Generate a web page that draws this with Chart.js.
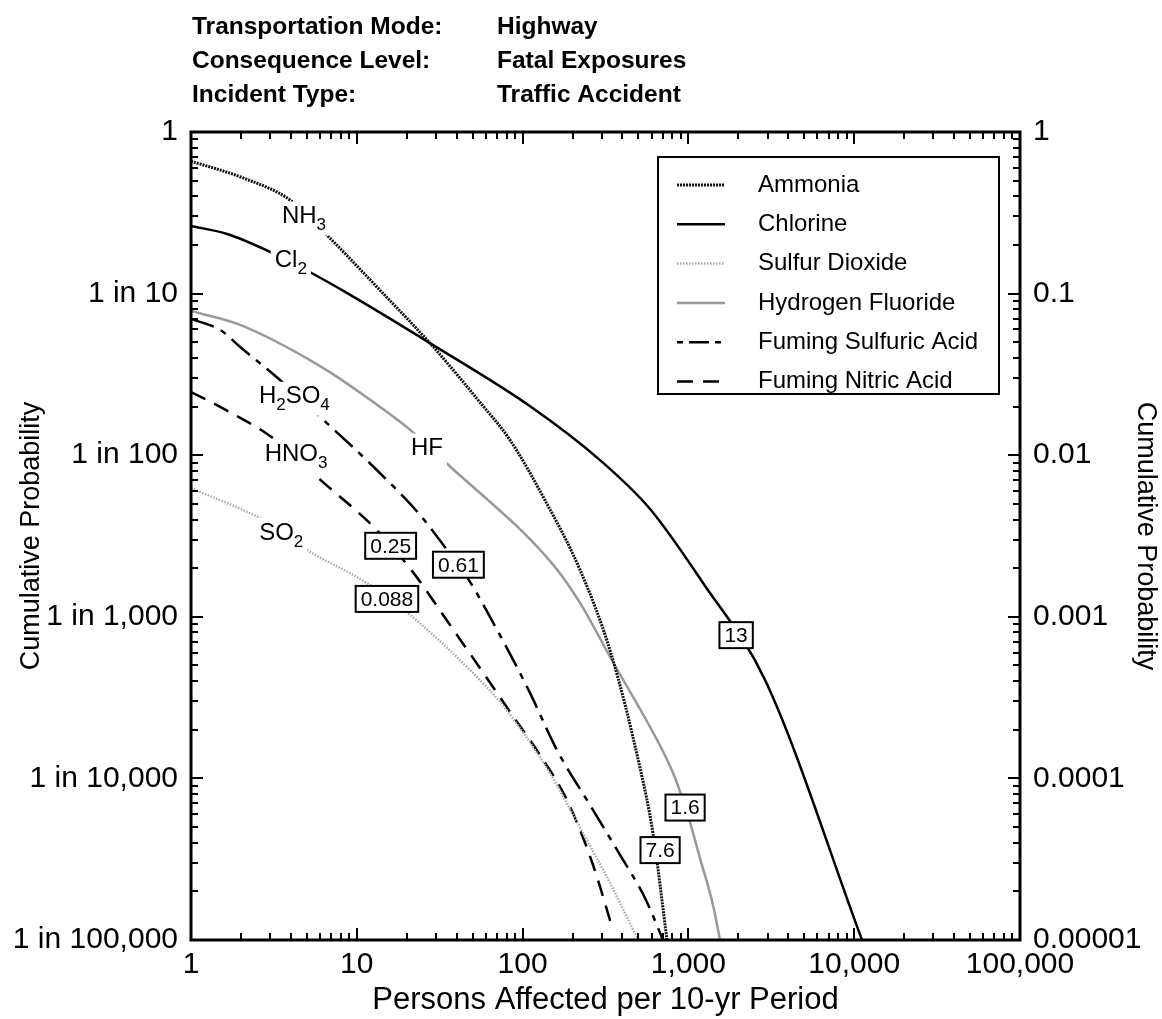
<!DOCTYPE html>
<html>
<head>
<meta charset="utf-8">
<script src="https://cdn.jsdelivr.net/npm/chart.js@4"></script>
<style>
  body { margin: 0; background: #fff; }
  canvas { display: block; }
</style>
</head>
<body>
<canvas id="fnChart" width="1162" height="1019"></canvas>
<script>
const xTicks = [1, 10, 100, 1000, 10000, 100000];
const xTickLabels = ["1", "10", "100", "1,000", "10,000", "100,000"];
const yTicks = [1e-5, 1e-4, 1e-3, 1e-2, 1e-1, 1];
const yLeftLabels = ["1 in 100,000", "1 in 10,000", "1 in 1,000", "1 in 100", "1 in 10", "1"];
const yRightLabels = ["0.00001", "0.0001", "0.001", "0.01", "0.1", "1"];

const headerKeys = ["Transportation Mode:", "Consequence Level:", "Incident Type:"];
const headerValues = ["Highway", "Fatal Exposures", "Traffic Accident"];

// persons affected (x) vs cumulative probability (y)
const ammoniaX = [1, 2.06, 3.95, 6.6, 13.8, 28.8, 55, 84, 136, 222, 340, 510, 611, 743];
const ammoniaY = [0.66, 0.52, 0.38, 0.23, 0.105, 0.047, 0.0214, 0.0124, 0.0053, 0.00195, 0.0006, 0.000117, 0.000046, 0.00001];
const chlorineX = [1, 1.65, 3.12, 5.2, 8.7, 27.6, 111, 293, 587, 1225, 2900, 11150];
const chlorineY = [0.262, 0.234, 0.178, 0.136, 0.101, 0.0494, 0.0201, 0.00933, 0.00465, 0.00162, 0.000406, 0.00001];
const so2X = [1, 2.72, 5.0, 11.5, 20.9, 50.2, 73, 103, 146, 231, 337, 497];
const so2Y = [0.00626, 0.00397, 0.00259, 0.00162, 0.00103, 0.000449, 0.000297, 0.000186, 0.000108, 0.000046, 0.0000225, 0.00001];
const hfX = [1, 1.98, 6.25, 13.8, 21.8, 33.1, 150, 222, 337, 647, 808, 995, 1175, 1407, 1552];
const hfY = [0.078, 0.064, 0.0347, 0.0199, 0.0139, 0.00934, 0.00215, 0.00122, 0.000564, 0.000173, 0.000108, 0.000059, 0.000032, 0.0000165, 0.00001];
const h2so4X = [1, 1.5, 1.98, 3.44, 5.84, 13.2, 24.1, 35, 46.2, 73, 111, 161, 255, 387, 547, 703];
const h2so4Y = [0.0697, 0.0596, 0.0467, 0.0292, 0.01774, 0.0081, 0.00426, 0.00259, 0.00176, 0.00077, 0.000337, 0.00015, 0.0000684, 0.0000336, 0.0000182, 0.00001];
const hno3X = [1, 1.5, 3.12, 6.25, 13.2, 21.8, 36.5, 55.3, 84, 127, 185, 266, 351];
const hno3Y = [0.0246, 0.0199, 0.01276, 0.00682, 0.00344, 0.00189, 0.000889, 0.000482, 0.000258, 0.00014, 0.0000735, 0.0000291, 0.0000115];

const seriesNames = ["Ammonia", "Chlorine", "Sulfur Dioxide", "Hydrogen Fluoride", "Fuming Sulfuric Acid", "Fuming Nitric Acid"];

// curve labels: [text parts, x, y]; parts marked true are subscripts
const formulaLabels = [
  [[["NH", false], ["3", true]], 4.8, 0.30],
  [[["Cl", false], ["2", true]], 4.0, 0.16],
  [[["H", false], ["2", true], ["SO", false], ["4", true]], 4.2, 0.023],
  [[["HNO", false], ["3", true]], 4.3, 0.0101],
  [[["HF", false]], 26.5, 0.011],
  [[["SO", false], ["2", true]], 3.5, 0.0033]
];
const boxLabels = [
  ["0.25", 16, 0.00275],
  ["0.61", 41, 0.0021],
  ["0.088", 15.2, 0.00129],
  ["13", 1940, 0.00077],
  ["1.6", 955, 0.000066],
  ["7.6", 675, 0.000036]
];

const FONT = "'Liberation Sans', Arial, sans-serif";

function pts(xs, ys) {
  return xs.map((x, i) => ({ x: x, y: ys[i] }));
}

const styles = [
  { borderColor: "#111", borderWidth: 3, borderDash: [2, 1] },
  { borderColor: "#000", borderWidth: 2.5, borderDash: [] },
  { borderColor: "#aaa", borderWidth: 2.5, borderDash: [1.5, 1.5] },
  { borderColor: "#999", borderWidth: 2.5, borderDash: [] },
  { borderColor: "#000", borderWidth: 2.5, borderDash: [24, 8, 6, 8] },
  { borderColor: "#000", borderWidth: 2.5, borderDash: [16, 10] }
];
const legendDash = [[2, 1], [], [1.5, 1.5], [], [6, 6, 20, 6, 6, 6], [16, 10]];

const seriesData = [
  pts(ammoniaX, ammoniaY), pts(chlorineX, chlorineY), pts(so2X, so2Y),
  pts(hfX, hfY), pts(h2so4X, h2so4Y), pts(hno3X, hno3Y)
];

const datasets = seriesData.map((d, i) => Object.assign({
  label: seriesNames[i],
  data: d,
  pointRadius: 0,
  fill: false,
  cubicInterpolationMode: "monotone"
}, styles[i]));

function drawFormula(ctx, parts, cx, cy) {
  const big = "24px " + FONT, small = "17px " + FONT;
  let w = 0;
  parts.forEach(p => { ctx.font = p[1] ? small : big; w += ctx.measureText(p[0]).width; });
  ctx.fillStyle = "#fff";
  ctx.fillRect(cx - w / 2 - 4, cy - 15, w + 8, 34);
  ctx.fillStyle = "#000";
  ctx.textBaseline = "middle";
  ctx.textAlign = "left";
  let x = cx - w / 2;
  parts.forEach(p => {
    ctx.font = p[1] ? small : big;
    ctx.fillText(p[0], x, p[1] ? cy + 9 : cy);
    x += ctx.measureText(p[0]).width;
  });
}

function drawBox(ctx, text, cx, cy) {
  ctx.font = "21px " + FONT;
  const w = ctx.measureText(text).width + 10;
  const h = 26;
  ctx.fillStyle = "#fff";
  ctx.fillRect(cx - w / 2, cy - h / 2, w, h);
  ctx.lineWidth = 2;
  ctx.strokeStyle = "#000";
  ctx.setLineDash([]);
  ctx.strokeRect(cx - w / 2, cy - h / 2, w, h);
  ctx.fillStyle = "#000";
  ctx.textAlign = "center";
  ctx.textBaseline = "middle";
  ctx.fillText(text, cx, cy + 1);
}

const decorPlugin = {
  id: "decor",
  afterDatasetsDraw(chart) {
    const ctx = chart.ctx;
    const a = chart.chartArea;
    const xs = chart.scales.x, ys = chart.scales.y;
    ctx.save();
    // inward ticks on all four sides
    ctx.strokeStyle = "#000";
    ctx.lineWidth = 2;
    ctx.setLineDash([]);
    ctx.beginPath();
    for (let d = 0; d < 5; d++) {
      for (let m = 1; m <= 9; m++) {
        const v = m * Math.pow(10, d);
        const px = Math.round(xs.getPixelForValue(v));
        const len = m === 1 ? 12 : 7;
        ctx.moveTo(px, a.bottom); ctx.lineTo(px, a.bottom - len);
        ctx.moveTo(px, a.top); ctx.lineTo(px, a.top + len);
      }
    }
    for (let d = -5; d < 0; d++) {
      for (let m = 1; m <= 9; m++) {
        const v = m * Math.pow(10, d);
        const py = Math.round(ys.getPixelForValue(v));
        const len = m === 1 ? 12 : 7;
        ctx.moveTo(a.left, py); ctx.lineTo(a.left + len, py);
        ctx.moveTo(a.right, py); ctx.lineTo(a.right - len, py);
      }
    }
    ctx.stroke();
    ctx.lineWidth = 3;
    ctx.strokeRect(a.left, a.top, a.right - a.left, a.bottom - a.top);

    formulaLabels.forEach(l => drawFormula(ctx, l[0], xs.getPixelForValue(l[1]), ys.getPixelForValue(l[2])));
    boxLabels.forEach(l => drawBox(ctx, l[0], xs.getPixelForValue(l[1]), ys.getPixelForValue(l[2])));

    // legend box
    const lx = 658, ly = 157, lw = 341, lh = 237;
    ctx.fillStyle = "#fff";
    ctx.fillRect(lx, ly, lw, lh);
    ctx.lineWidth = 2;
    ctx.strokeStyle = "#000";
    ctx.strokeRect(lx, ly, lw, lh);
    chart.data.datasets.forEach((ds, i) => {
      const yy = 185 + i * 39.3;
      ctx.beginPath();
      ctx.strokeStyle = ds.borderColor;
      ctx.lineWidth = ds.borderWidth;
      ctx.setLineDash(legendDash[i]);
      ctx.moveTo(677, yy);
      ctx.lineTo(725, yy);
      ctx.stroke();
      ctx.setLineDash([]);
      ctx.fillStyle = "#000";
      ctx.font = "24px " + FONT;
      ctx.textAlign = "left";
      ctx.textBaseline = "middle";
      ctx.fillText(ds.label, 758, yy);
    });

    // header block
    ctx.font = "bold 24.5px " + FONT;
    ctx.textBaseline = "middle";
    headerKeys.forEach((k, i) => {
      const yy = 27 + i * 34;
      ctx.fillText(k, 192, yy);
      ctx.fillText(headerValues[i], 497, yy);
    });
    ctx.restore();
  }
};

const tickFont = { family: FONT, size: 30 };

new Chart(document.getElementById("fnChart"), {
  type: "line",
  data: { datasets: datasets },
  options: {
    responsive: false,
    animation: false,
    devicePixelRatio: 1,
    layout: { padding: { top: 132, left: 0, right: 0, bottom: 0 } },
    plugins: { legend: { display: false }, tooltip: { enabled: false } },
    scales: {
      x: {
        type: "logarithmic",
        position: "bottom",
        min: 1,
        max: 100000,
        afterBuildTicks: s => { s.ticks = xTicks.map(v => ({ value: v })); },
        afterFit: s => { s.height = 79; },
        grid: { display: false, drawTicks: false },
        border: { display: false },
        ticks: { color: "#000", font: tickFont, padding: 7, maxRotation: 0, autoSkip: false,
          callback: (v, i) => xTickLabels[i] },
        title: { display: true, text: "Persons Affected per 10-yr Period", color: "#000",
          font: { family: FONT, size: 31 }, padding: { bottom: 0 } }
      },
      y: {
        type: "logarithmic",
        position: "left",
        min: 1e-5,
        max: 1,
        afterBuildTicks: s => { s.ticks = yTicks.map(v => ({ value: v })); },
        afterFit: s => { s.width = 191; },
        grid: { display: false, drawTicks: false },
        border: { display: false },
        ticks: { color: "#000", font: tickFont, padding: 13, autoSkip: false,
          callback: (v, i) => yLeftLabels[i] },
        title: { display: true, text: "Cumulative Probability", color: "#000",
          font: { family: FONT, size: 27 }, padding: { top: 15 } }
      },
      y2: {
        type: "logarithmic",
        position: "right",
        min: 1e-5,
        max: 1,
        afterBuildTicks: s => { s.ticks = yTicks.map(v => ({ value: v })); },
        afterFit: s => { s.width = 142; },
        grid: { display: false, drawTicks: false },
        border: { display: false },
        ticks: { color: "#000", font: tickFont, padding: 13, autoSkip: false,
          callback: (v, i) => yRightLabels[i] },
        title: { display: true, text: "Cumulative Probability", color: "#000",
          font: { family: FONT, size: 27 }, padding: { top: 0 } }
      }
    }
  },
  plugins: [decorPlugin]
});
</script>
</body>
</html>
